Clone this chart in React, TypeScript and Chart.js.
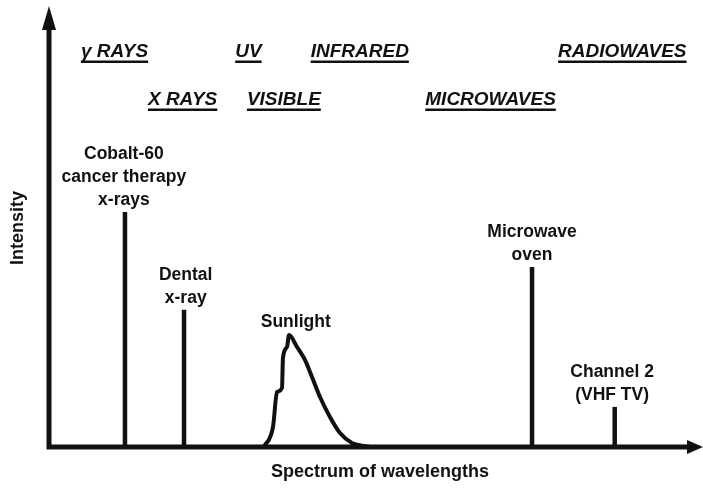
import { useEffect, useRef } from "react";
import { Chart, registerables } from "chart.js";

Chart.register(...registerables);

// Spectrum band names (top of chart), start position on the wavelength axis (0-100) and row
const bandNames = ["γ RAYS", "UV", "INFRARED", "RADIOWAVES", "X RAYS", "VISIBLE", "MICROWAVES"];
const bandStart = [4.9, 28.6, 40.2, 78.2, 15.2, 30.4, 57.8];
const bandRow = [0, 0, 0, 0, 1, 1, 1];

// Line sources: wavelength position and intensity (0-100)
const sourceX = [11.67, 20.74, 74.2, 86.9];
const sourceIntensity = [53.3, 31.1, 40.8, 9.1];
const sourceLabels = [
  ["Cobalt-60", "cancer therapy", "x-rays"],
  ["Dental", "x-ray"],
  ["Microwave", "oven"],
  ["Channel 2", "(VHF TV)"],
];
const sourceLabelX = [11.5, 21.0, 74.2, 86.5];

// Sunlight continuous spectrum
const sunX = [32.87, 33.18, 34.41, 35.02, 35.79, 35.94, 36.56, 36.87, 38.1, 39.32, 40.4, 41.63, 43.16, 44.7, 46.54, 48.23, 49.6];
const sunY = [0, 0.45, 4.54, 12.47, 13.38, 20.18, 22.68, 25.4, 22.68, 19.73, 15.87, 11.34, 6.8, 3.17, 0.91, 0.23, 0];
const sunLabel = "Sunlight";
const sunLabelX = 37.9;

const xTitle = "Spectrum of wavelengths";
const yTitle = "Intensity";

const FONT = "'Liberation Sans', Arial, sans-serif";
const INK = "#111111";

const diagramPlugin = {
  id: "diagram",
  afterDraw(chart: any) {
    const { ctx, chartArea, scales } = chart;
    const xs = scales.x;
    const ys = scales.y;
    const x0 = xs.getPixelForValue(0);
    const y0 = ys.getPixelForValue(0);
    ctx.save();
    ctx.fillStyle = INK;
    ctx.strokeStyle = INK;
    // axes
    ctx.lineWidth = 5;
    ctx.lineCap = "butt";
    ctx.beginPath();
    ctx.moveTo(x0, y0 + 2.5);
    ctx.lineTo(x0, chartArea.top + 20);
    ctx.moveTo(x0 - 2.5, y0);
    ctx.lineTo(chartArea.right - 10, y0);
    ctx.stroke();
    // arrow heads
    ctx.beginPath();
    ctx.moveTo(x0, chartArea.top);
    ctx.lineTo(x0 - 7, chartArea.top + 24);
    ctx.lineTo(x0 + 7, chartArea.top + 24);
    ctx.closePath();
    ctx.fill();
    const tipX = chartArea.right + 3;
    ctx.beginPath();
    ctx.moveTo(tipX, y0);
    ctx.lineTo(tipX - 16, y0 - 7);
    ctx.lineTo(tipX - 16, y0 + 7);
    ctx.closePath();
    ctx.fill();

    // band labels
    ctx.font = `italic bold 19px ${FONT}`;
    ctx.textAlign = "left";
    ctx.textBaseline = "middle";
    bandNames.forEach((name, i) => {
      const lx = xs.getPixelForValue(bandStart[i]);
      const ly = chartArea.top + 46 + bandRow[i] * 48;
      ctx.fillText(name, lx, ly);
      const w = ctx.measureText(name).width;
      ctx.fillRect(lx, ly + 8.5, w, 2.5);
    });

    // source labels
    ctx.font = `bold 17.5px ${FONT}`;
    ctx.textAlign = "center";
    sourceLabels.forEach((lines, i) => {
      const cx = xs.getPixelForValue(sourceLabelX[i]);
      const bottom = ys.getPixelForValue(sourceIntensity[i]) - 12;
      lines.forEach((t, j) => {
        ctx.fillText(t, cx, bottom - (lines.length - 1 - j) * 23);
      });
    });
    const peak = Math.max(...sunY);
    ctx.fillText(sunLabel, xs.getPixelForValue(sunLabelX), ys.getPixelForValue(peak) - 13);

    // axis titles
    ctx.font = `bold 18px ${FONT}`;
    ctx.fillText(xTitle, 380, y0 + 25);
    ctx.save();
    ctx.translate(18, 228);
    ctx.rotate(-Math.PI / 2);
    ctx.fillText(yTitle, 0, 0);
    ctx.restore();
    ctx.restore();
  },
};

export default function App() {
  const ref = useRef<HTMLCanvasElement | null>(null);
  useEffect(() => {
    if (!ref.current) return;
    const datasets: any[] = sourceX.map((x, i) => ({
      data: [
        { x, y: 0 },
        { x, y: sourceIntensity[i] },
      ],
      showLine: true,
      borderColor: INK,
      borderWidth: 4.5,
      pointRadius: 0,
      borderCapStyle: "butt",
    }));
    datasets.push({
      data: sunX.map((x, i) => ({ x, y: sunY[i] })),
      showLine: true,
      borderColor: INK,
      borderWidth: 4,
      pointRadius: 0,
      cubicInterpolationMode: "monotone",
      borderJoinStyle: "round",
      borderCapStyle: "round",
    });
    const chart = new Chart(ref.current, {
      type: "scatter",
      data: { datasets },
      options: {
        animation: false,
        responsive: false,
        layout: { padding: { left: 49, right: 3, top: 6, bottom: 42 } },
        plugins: { legend: { display: false }, tooltip: { enabled: false } },
        scales: {
          x: { type: "linear", min: 0, max: 100, display: false },
          y: { type: "linear", min: 0, max: 100, display: false },
        },
      },
      plugins: [diagramPlugin],
    });
    return () => chart.destroy();
  }, []);
  return (
    <div style={{ position: "absolute", left: 0, top: 0, width: 703, height: 489, background: "#fff" }}>
      <canvas ref={ref} width={703} height={489} />
    </div>
  );
}
